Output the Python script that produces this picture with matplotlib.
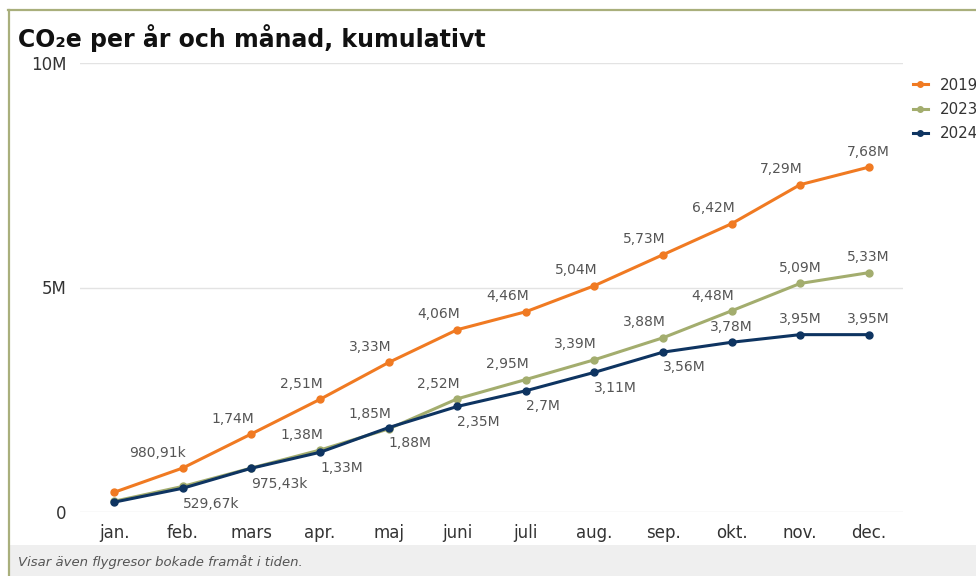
import matplotlib.pyplot as plt
from matplotlib.lines import Line2D
from matplotlib.patches import Rectangle

# Data
manader = ["jan.", "feb.", "mars", "apr.", "maj", "juni", "juli", "aug.", "sep.", "okt.", "nov.", "dec."]

co2_2019 = [0.44e6, 980.91e3, 1.74e6, 2.51e6, 3.33e6, 4.06e6, 4.46e6, 5.04e6, 5.73e6, 6.42e6, 7.29e6, 7.68e6]
co2_2023 = [0.24e6, 0.57e6, 0.98e6, 1.38e6, 1.85e6, 2.52e6, 2.95e6, 3.39e6, 3.88e6, 4.48e6, 5.09e6, 5.33e6]
co2_2024 = [0.22e6, 529.67e3, 975.43e3, 1.33e6, 1.88e6, 2.35e6, 2.70e6, 3.11e6, 3.56e6, 3.78e6, 3.95e6, 3.95e6]

# vilka etiketter som syns (overlappande doldes i originalet)
visa_2019 = [False] + [True] * 11
visa_2023 = [False, False, False] + [True] * 9
visa_2024 = [False] + [True] * 11

farg_2019 = "#F07A22"
farg_2023 = "#A3AD6E"
farg_2024 = "#0E3461"


def fmt(v):
    if v < 1e6:
        s = f"{v / 1e3:.2f}".rstrip("0").rstrip(".") + "k"
    else:
        s = f"{v / 1e6:.2f}".rstrip("0").rstrip(".") + "M"
    return s.replace(".", ",")


fig = plt.figure(figsize=(9.76, 5.76), dpi=100)
fig.patch.set_facecolor("white")

# ram och sidfot
fig.patches.append(Rectangle((8 / 976, 0), 1, 31 / 576, transform=fig.transFigure,
                             facecolor="#EFEFEF", edgecolor="none", zorder=0))
fig.add_artist(Line2D([8.5 / 976, 8.5 / 976], [0, 1 - 10 / 576], transform=fig.transFigure,
                      color="#A9AF7C", lw=1.6))
fig.add_artist(Line2D([8 / 976, 1], [1 - 10 / 576, 1 - 10 / 576], transform=fig.transFigure,
                      color="#A9AF7C", lw=1.6))

ax = fig.add_axes([80 / 976, 1 - 512 / 576, (903 - 80) / 976, (512 - 63) / 576])
x = list(range(len(manader)))

serier = [
    ("2019", co2_2019, farg_2019, visa_2019, "upp"),
    ("2023", co2_2023, farg_2023, visa_2023, "upp"),
    ("2024", co2_2024, farg_2024, visa_2024, "ned"),
]

for namn, varden, farg, visa, lage in serier:
    ax.plot(x, varden, color=farg, lw=2.2, marker="o", markersize=5, label=namn, zorder=3)

for namn, varden, farg, visa, lage in serier:
    for i, v in enumerate(varden):
        if not visa[i]:
            continue
        lutning = varden[i + 1] - v if i + 1 < len(varden) else 0
        upp = lage == "upp" or lutning < 0.3e6 and namn == "2024" and i >= 9
        if upp:
            ha = "right" if lutning > 0.3e6 else "center"
            dx = 2 if ha == "right" else 0
            ax.annotate(fmt(v), (i, v), xytext=(dx, 6), textcoords="offset points",
                        ha=ha, va="bottom", fontsize=10, color="#555555")
        else:
            ax.annotate(fmt(v), (i, v), xytext=(0, -6), textcoords="offset points",
                        ha="left", va="top", fontsize=10, color="#555555")

ax.set_xlim(-0.5, 11.5)
ax.set_ylim(0, 10e6)
ax.set_yticks([0, 5e6, 10e6])
ax.set_yticklabels(["0", "5M", "10M"])
ax.set_xticks(x)
ax.set_xticklabels(manader)
ax.tick_params(axis="both", length=0, labelsize=12, colors="#333333")
ax.tick_params(axis="y", pad=9.5)
ax.tick_params(axis="x", pad=9)
for s in ax.spines.values():
    s.set_visible(False)
ax.grid(axis="y", color="#E3E3E3", lw=1)
ax.set_axisbelow(True)

fig.text(18 / 976, 1 - 47 / 576, "CO₂e per år och månad, kumulativt", fontsize=17,
         fontweight="bold", color="#111111", ha="left", va="baseline")

handles, labels = ax.get_legend_handles_labels()
fig.legend(handles, labels, loc="upper left", bbox_to_anchor=(899 / 976, 1 - 64 / 576),
           frameon=False, fontsize=10.8, handlelength=1.0, labelspacing=0.62,
           markerscale=0.8, labelcolor="#333333")

fig.text(18 / 976, 1 - 562 / 576, "Visar även flygresor bokade framåt i tiden.",
         family=["Liberation Sans Narrow", "DejaVu Sans"], style="italic", fontsize=9.5,
         color="#555555", ha="left", va="center")

plt.savefig("out.png", dpi=100)
